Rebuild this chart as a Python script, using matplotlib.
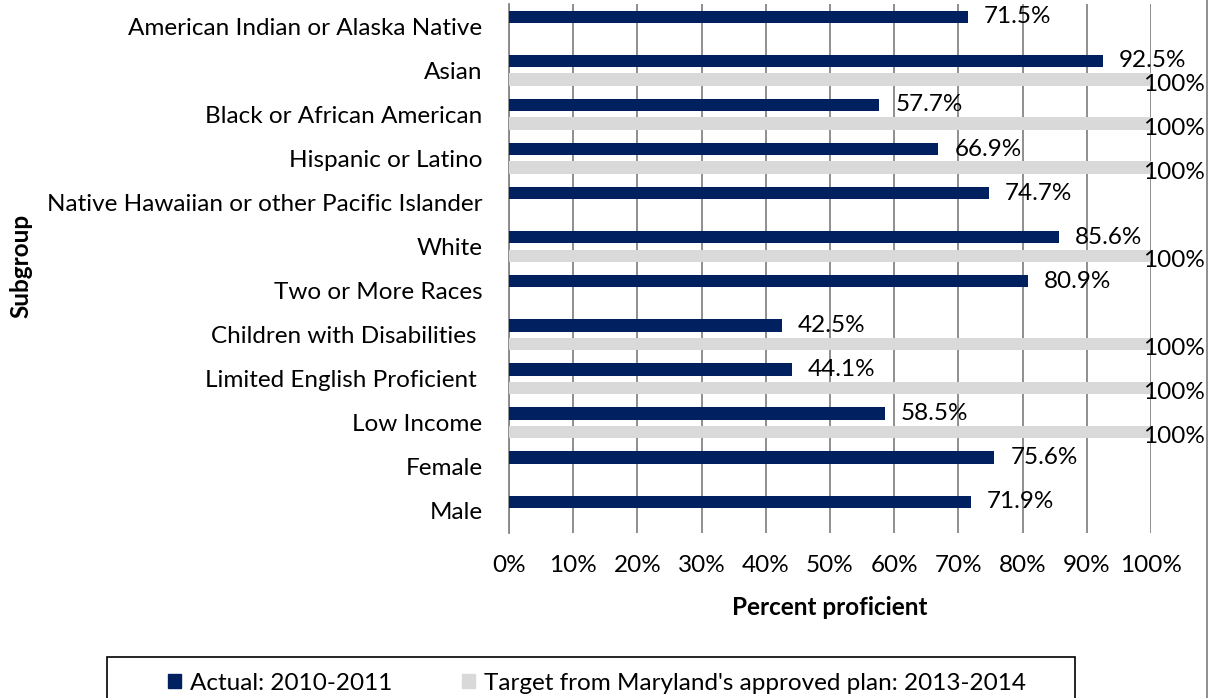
import matplotlib
matplotlib.use("Agg")
import matplotlib.pyplot as plt
import numpy as np
from matplotlib.patches import Patch, Rectangle
from matplotlib.lines import Line2D

plt.rcParams["font.family"] = ["Lato", "DejaVu Sans"]

subgroups = [
    "American Indian or Alaska Native",
    "Asian",
    "Black or African American",
    "Hispanic or Latino",
    "Native Hawaiian or other Pacific Islander",
    "White",
    "Two or More Races",
    "Children with Disabilities ",
    "Limited English Proficient ",
    "Low Income",
    "Female",
    "Male",
]
actual = [71.5, 92.5, 57.7, 66.9, 74.7, 85.6, 80.9, 42.5, 44.1, 58.5, 75.6, 71.9]
target = [None, 100, 100, 100, None, 100, None, 100, 100, 100, None, None]

NAVY = "#002060"
GRAY = "#D9D9D9"
GRID = "#868686"
FS = 17.5

fig = plt.figure(figsize=(12.11, 6.98), dpi=100)
ax = fig.add_axes([509 / 1211, 1 - 533 / 698, 642 / 1211, 529 / 698])

y = np.arange(len(subgroups))[::-1]
h = 0.28
off = 0.21

ax.barh(y + off, actual, height=h, color=NAVY, zorder=3)
for yi, v in zip(y, actual):
    ax.annotate(f"{v:.1f}%", (v, yi + off), xytext=(11.5, 0), textcoords="offset points",
                ha="left", va="center", fontsize=FS, color="black", zorder=4)

for yi, t in zip(y, target):
    if t is None:
        continue
    ax.barh(yi - off, t, height=h, color=GRAY, zorder=3)
    ax.annotate(f"{t:.0f}%", (t, yi - off), xytext=(-5.5, -3.5), textcoords="offset points",
                ha="left", va="center", fontsize=FS, color="black", zorder=4)

ax.set_xlim(0, 100)
ax.set_ylim(-0.5, len(subgroups) - 0.5)
ax.set_xticks(np.arange(0, 101, 10))
ax.set_xticklabels([f"{t}%" for t in range(0, 101, 10)], fontsize=FS)
ax.set_yticks(y)
ax.set_yticklabels(subgroups, fontsize=FS)
ax.tick_params(axis="x", length=0, pad=16)
ax.tick_params(axis="y", length=0, pad=19)

ax.grid(axis="x", color=GRID, linewidth=1.3, zorder=0)
ax.grid(axis="y", visible=False)
for side in ["top", "right", "bottom"]:
    ax.spines[side].set_visible(False)
ax.spines["left"].set_color(GRID)
ax.spines["left"].set_linewidth(1.3)

ax.set_xlabel("Percent proficient", fontsize=FS, fontweight="bold", labelpad=14)
fig.text(21 / 1211, 1 - 266 / 698, "Subgroup", rotation=90, ha="center", va="center",
         fontsize=FS, fontweight="bold")

# legend box runs off the bottom edge
fig.add_artist(Rectangle((107 / 1211, -0.05), (1075 - 107) / 1211, 1 - 657 / 698 + 0.05,
                         transform=fig.transFigure, fill=False, edgecolor="black",
                         linewidth=1.2))
handles = [Patch(color=NAVY, label="Actual: 2010-2011"),
           Patch(color=GRAY, label="Target from Maryland's approved plan: 2013-2014")]
fig.legend(handles=handles, loc="center", bbox_to_anchor=(597 / 1211, 1 - 683 / 698),
           ncol=2, frameon=False, fontsize=FS, handlelength=0.5, handleheight=0.5,
           handletextpad=0.37, columnspacing=2.9)

fig.add_artist(Line2D([1207 / 1211] * 2, [0, 1], transform=fig.transFigure,
                      color=GRID, linewidth=1.3))

fig.savefig("out.png", dpi=100)
